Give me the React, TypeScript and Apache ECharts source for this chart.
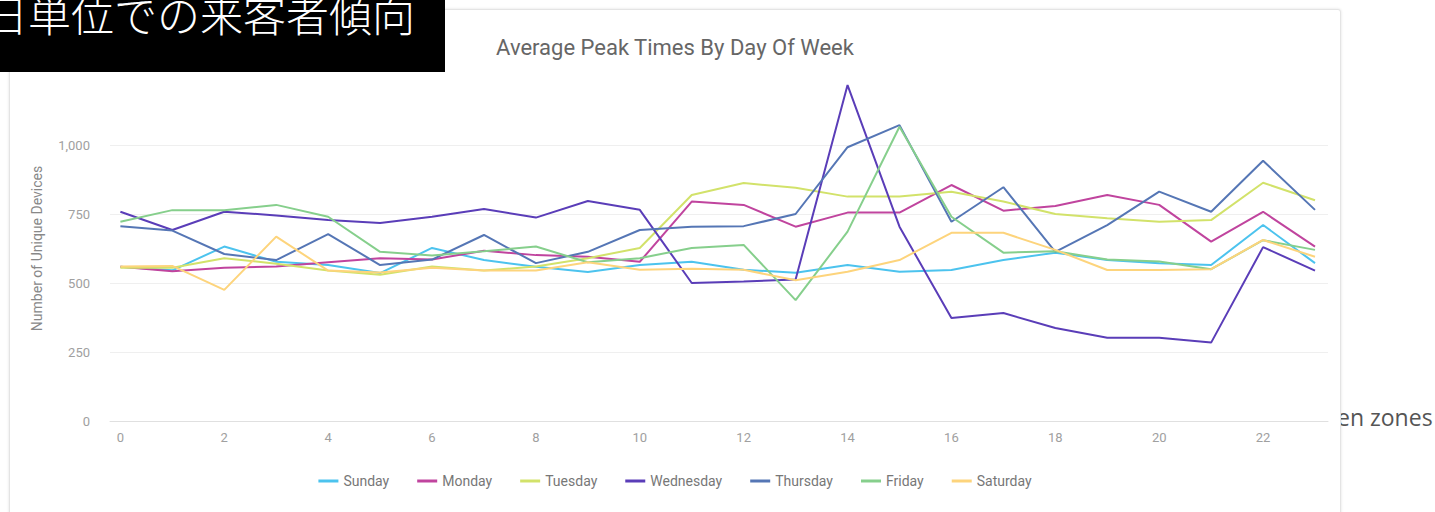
import React, { useEffect, useRef } from "react";
import * as echarts from "echarts";

const hours = [0, 1, 2, 3, 4, 5, 6, 7, 8, 9, 10, 11, 12, 13, 14, 15, 16, 17, 18, 19, 20, 21, 22, 23];
const xTickLabels = [0, 2, 4, 6, 8, 10, 12, 14, 16, 18, 20, 22];

const dayNames = ["Sunday", "Monday", "Tuesday", "Wednesday", "Thursday", "Friday", "Saturday"];
const dayColors = ["#4cc3ee", "#c0449e", "#d2e26a", "#5a3db8", "#5576b5", "#86cf8c", "#fdd47c"];

const sunday = [559, 546, 632, 577, 565, 536, 627, 583, 559, 540, 565, 577, 548, 537, 565, 541, 547, 583, 610, 583, 572, 565, 710, 572];
const monday = [559, 543, 555, 560, 575, 590, 585, 617, 601, 595, 577, 795, 783, 704, 755, 755, 855, 762, 779, 819, 783, 650, 758, 632];
const tuesday = [555, 555, 590, 570, 545, 530, 560, 545, 560, 590, 627, 819, 862, 845, 813, 813, 831, 795, 750, 735, 722, 728, 863, 800];
const wednesday = [758, 692, 758, 745, 728, 717, 740, 768, 737, 797, 765, 500, 505, 513, 1217, 704, 373, 391, 337, 302, 302, 284, 630, 545];
const thursday = [706, 690, 605, 583, 677, 565, 585, 674, 572, 613, 692, 704, 706, 750, 992, 1072, 722, 847, 613, 710, 831, 758, 943, 765];
const friday = [722, 764, 764, 783, 740, 613, 600, 615, 632, 575, 590, 627, 638, 438, 686, 1066, 740, 610, 615, 585, 578, 550, 655, 620];
const saturday = [560, 562, 475, 668, 545, 538, 555, 545, 545, 575, 548, 552, 548, 510, 541, 583, 682, 682, 620, 547, 547, 550, 656, 595];

const seriesValues = [sunday, monday, tuesday, wednesday, thursday, friday, saturday];

const chartTitle = "Average Peak Times By Day Of Week";
const yAxisName = "Number of Unique Devices";
const bannerText = "日単位での来客者傾向";
const sideText = "en zones";

const FONT = "Roboto, 'Noto Sans', sans-serif";

function Chart() {
  const ref = useRef<HTMLDivElement>(null);
  useEffect(() => {
    if (!ref.current) return;
    const chart = echarts.init(ref.current, undefined, { renderer: "svg" });
    chart.setOption({
      animation: false,
      textStyle: { fontFamily: FONT },
      title: {
        text: chartTitle,
        left: "center",
        top: 31,
        textStyle: { fontFamily: FONT, fontSize: 22, fontWeight: "normal", color: "#666" },
      },
      legend: {
        data: dayNames,
        left: "center",
        top: 469,
        icon: "rect",
        itemWidth: 20,
        itemHeight: 3,
        itemGap: 28,
        textStyle: { fontFamily: FONT, fontSize: 14, color: "#777" },
      },
      grid: { left: 110, right: 1350 - 1328, top: 76, bottom: 512 - 421, containLabel: false },
      xAxis: {
        type: "value",
        min: -0.2,
        max: 23.25,
        axisLine: { show: true, lineStyle: { color: "#e0e0e0", width: 1 } },
        axisTick: { show: false },
        splitLine: { show: false },
        axisLabel: {
          customValues: xTickLabels,
          color: "#a0a0a0",
          fontSize: 13,
          fontFamily: FONT,
          margin: 10,
        },
      },
      yAxis: {
        type: "value",
        min: 0,
        max: 1250,
        interval: 250,
        name: yAxisName,
        nameLocation: "middle",
        nameGap: 66,
        nameRotate: 90,
        nameTextStyle: { fontFamily: FONT, fontSize: 14, color: "#888" },
        axisLine: { show: false },
        axisTick: { show: false },
        splitLine: { show: true, showMaxLine: false, lineStyle: { color: "#efefef", width: 1 } },
        axisLabel: {
          showMaxLabel: false,
          color: "#a0a0a0",
          fontSize: 13,
          fontFamily: FONT,
          margin: 20,
          formatter: (v: number) => v.toLocaleString("en-US"),
        },
      },
      series: dayNames.map((name, i) => ({
        name,
        type: "line",
        data: hours.map((h, j) => [h, seriesValues[i][j]]),
        showSymbol: false,
        symbol: "none",
        lineStyle: { width: 2, color: dayColors[i] },
        itemStyle: { color: dayColors[i] },
      })),
    });
    return () => chart.dispose();
  }, []);
  return <div ref={ref} style={{ position: "absolute", left: 0, top: 0, width: 1350, height: 512, zIndex: 2 }} />;
}

export default function App() {
  return (
    <div
      style={{
        position: "fixed",
        left: 0,
        top: 0,
        width: 1435,
        height: 512,
        overflow: "hidden",
        background: "#fff",
      }}
    >
      <div
        style={{
          position: "absolute",
          left: 1337,
          top: 401,
          fontFamily: "'Open Sans', 'Noto Sans', sans-serif",
          fontSize: 23,
          color: "#555",
          whiteSpace: "nowrap",
          zIndex: 0,
        }}
      >
        {sideText}
      </div>
      <div
        style={{
          position: "absolute",
          left: 9,
          top: 9,
          width: 1330,
          height: 510,
          background: "#fff",
          border: "1px solid #e4e4e4",
          borderRadius: 3,
          boxShadow: "0 0 3px rgba(0,0,0,0.12)",
          zIndex: 1,
        }}
      />
      <Chart />
      <div
        style={{
          position: "absolute",
          left: 0,
          top: 0,
          width: 445,
          height: 72,
          background: "#000",
          overflow: "hidden",
          zIndex: 3,
        }}
      >
        <div
          style={{
            position: "absolute",
            left: -15,
            top: -12,
            fontFamily: "'Noto Sans CJK JP', sans-serif",
            fontSize: 43,
            fontWeight: 300,
            lineHeight: "50px",
            color: "#fff",
            whiteSpace: "nowrap",
          }}
        >
          {bannerText}
        </div>
      </div>
    </div>
  );
}
